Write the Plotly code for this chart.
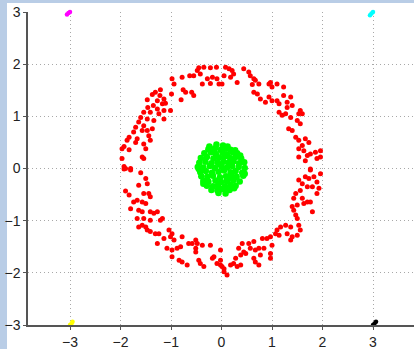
import plotly.graph_objects as go

# Outer ring (red) points
ring_x = [
 -0.45,-0.35,-0.22,-0.10,-0.48,-0.42,-0.55,-0.63,-0.28,-0.18,-0.09,-0.38,-0.22,-0.05,-0.78,-0.98,-0.94,-0.99,-0.76,-0.71,
 -0.59,-0.55,-0.80,-1.21,-1.31,-1.37,-1.22,-1.14,-1.27,-1.17,-1.11,-1.47,-1.35,-1.46,-1.27,-1.14,-1.01,-1.54,-1.41,-1.24,
 -1.14,-1.60,-1.47,-1.34,-1.64,-1.54,-1.37,-1.70,-1.57,-1.47,-1.74,-1.83,-1.67,-1.44,-1.41,-1.87,-1.70,-1.54,-1.50,-1.93,
 -1.83,-1.97,-1.57,-1.54,-1.97,-1.93,-1.90,-1.80,
 0.08,0.15,0.21,0.24,0.05,0.18,0.01,0.31,0.44,0.54,0.57,0.64,0.67,0.74,0.61,0.97,0.94,1.10,1.00,1.23,
 0.64,0.71,0.77,0.94,1.00,0.87,1.10,1.14,1.23,1.37,1.30,1.40,1.30,1.14,1.20,1.27,1.37,1.56,1.53,1.60,
 1.50,1.56,1.33,1.40,1.47,1.53,1.66,1.73,1.60,1.53,1.63,1.76,1.86,1.96,1.96,1.70,1.53,1.66,1.89,1.76,
 -1.93,-1.80,-1.60,-1.50,-1.64,-1.47,-1.90,-1.83,-1.67,-1.74,-1.54,-1.44,-1.41,-1.57,-1.50,-1.80,-1.64,-1.57,-1.41,-1.34,
 -1.27,-1.67,-1.54,-1.41,-1.17,-1.21,-1.57,-1.50,-1.64,-1.47,-1.41,-1.31,-1.24,-1.04,-0.98,-1.01,-1.27,-1.14,-0.78,-0.94,
 -1.08,-0.98,-0.88,-0.81,-0.65,-0.58,-0.51,-0.48,-0.38,-0.51,-0.98,-0.84,-0.78,-0.68,-0.51,-0.45,-0.42,-0.22,-0.15,-0.02,
 -0.18,-0.09,0.01,-0.35,
 1.76,1.96,1.66,1.73,1.83,1.89,1.53,1.60,1.70,1.80,1.93,1.89,1.56,1.47,1.43,1.60,1.70,1.63,1.76,1.50,
 1.40,1.80,1.43,1.47,1.50,1.37,1.53,1.56,1.27,1.17,1.10,1.07,1.14,1.30,1.40,1.37,1.50,0.97,0.90,0.81,
 1.00,0.84,0.64,0.54,0.57,0.67,0.74,0.41,0.34,0.44,0.48,0.38,0.64,0.77,0.97,0.97,0.67,0.74,0.28,0.24,
 0.18,0.31,0.38,0.05,-0.02,-0.02,0.11,0.05,
]
ring_y = [
 1.93,1.94,1.93,1.94,1.88,1.81,1.78,1.78,1.72,1.75,1.72,1.62,1.63,1.62,1.75,1.72,1.62,1.43,1.51,1.46,
 1.46,1.40,1.32,1.51,1.46,1.42,1.40,1.33,1.30,1.24,1.25,1.32,1.21,1.17,1.14,1.11,1.11,1.08,1.08,1.05,
 0.95,0.98,0.95,0.92,0.89,0.82,0.76,0.79,0.73,0.73,0.70,0.60,0.57,0.63,0.54,0.54,0.50,0.47,0.38,0.42,
 0.36,0.38,0.22,0.19,0.19,0.04,0.00,0.00,
 1.94,1.91,1.88,1.81,1.78,1.75,1.62,1.65,1.91,1.85,1.78,1.72,1.69,1.62,1.61,1.65,1.62,1.62,1.56,1.56,
 1.46,1.43,1.33,1.37,1.30,1.27,1.30,1.24,1.40,1.37,1.27,1.21,1.17,1.08,1.02,1.05,0.98,1.11,1.05,1.05,
 0.92,0.86,0.76,0.73,0.60,0.54,0.57,0.50,0.44,0.38,0.34,0.28,0.31,0.34,0.22,0.25,0.22,0.15,0.19,-0.01,
 -0.01,-0.03,-0.08,-0.19,-0.32,-0.29,-0.43,-0.51,-0.61,-0.64,-0.48,-0.48,-0.54,-0.64,-0.67,-0.77,-0.80,-0.83,-0.83,-0.86,
 -0.83,-0.96,-0.96,-0.99,-0.96,-0.99,-1.09,-1.12,-1.12,-1.18,-1.21,-1.25,-1.25,-1.18,-1.25,-1.31,-1.44,-1.34,-1.31,-1.37,
 -1.53,-1.56,-1.53,-1.50,-1.44,-1.44,-1.37,-1.44,-1.47,-1.53,-1.69,-1.76,-1.79,-1.85,-1.60,-1.76,-1.82,-1.47,-1.69,-1.56,
 -1.72,-1.82,-1.88,-1.88,
 -0.03,-0.10,-0.16,-0.19,-0.16,-0.26,-0.22,-0.29,-0.35,-0.35,-0.38,-0.48,-0.42,-0.48,-0.57,-0.57,-0.64,-0.67,-0.64,-0.70,
 -0.73,-0.83,-0.80,-0.89,-0.96,-1.12,-1.09,-1.18,-1.09,-1.12,-1.18,-1.25,-1.28,-1.25,-1.31,-1.37,-1.28,-1.31,-1.34,-1.34,
 -1.47,-1.53,-1.40,-1.44,-1.53,-1.56,-1.53,-1.44,-1.53,-1.60,-1.63,-1.66,-1.72,-1.66,-1.63,-1.72,-1.79,-1.85,-1.72,-1.82,
 -1.85,-1.88,-1.85,-1.92,-1.85,-1.76,-2.04,-1.98,
]

# Inner disk (green) points
core_x = [
 -0.10,0.03,0.12,
 -0.26,-0.13,-0.02,0.09,0.18,0.27,
 -0.34,-0.21,-0.11,0.02,0.11,0.22,0.31,
 -0.41,-0.29,-0.16,-0.05,0.06,0.17,0.28,0.39,
 -0.44,-0.32,-0.20,-0.08,0.04,0.14,0.24,0.35,0.45,
 -0.47,-0.36,-0.23,-0.13,0.00,0.11,0.21,0.34,0.46,
 -0.42,-0.31,-0.19,-0.06,0.05,0.18,0.28,0.41,
 -0.40,-0.28,-0.17,-0.03,0.09,0.20,0.30,0.43,
 -0.36,-0.26,-0.12,-0.01,0.10,0.24,0.36,
 -0.29,-0.17,-0.07,0.07,0.18,0.28,
 -0.20,-0.08,0.05,0.16,
 -0.06,0.08,
 -0.36,0.37,-0.45,0.46,-0.24,0.25,0.00,-0.04,0.14,-0.15,
]
core_y = [
 0.46,0.44,0.42,
 0.37,0.39,0.36,0.38,0.36,0.35,
 0.29,0.31,0.28,0.30,0.27,0.31,0.29,
 0.20,0.22,0.19,0.21,0.23,0.20,0.22,0.19,
 0.11,0.13,0.10,0.12,0.13,0.11,0.14,0.10,0.12,
 0.03,0.02,0.05,0.01,0.04,0.02,0.05,0.03,0.01,
 -0.07,-0.05,-0.08,-0.06,-0.04,-0.07,-0.05,-0.08,
 -0.15,-0.16,-0.14,-0.17,-0.15,-0.13,-0.16,-0.14,
 -0.24,-0.25,-0.23,-0.26,-0.24,-0.22,-0.25,
 -0.33,-0.34,-0.32,-0.34,-0.31,-0.33,
 -0.41,-0.42,-0.40,-0.41,
 -0.47,-0.48,
 -0.29,0.25,-0.01,-0.10,0.42,-0.38,-0.39,0.08,-0.20,0.32,
]

# Corner clusters
tl_x = [-3.06, -3.03, -3.00, -2.97, -2.95]
tl_y = [2.95, 2.98, 3.00, 3.03, 3.05]
tr_x = [2.94, 2.97, 3.00, 3.03, 3.06]
tr_y = [2.94, 2.97, 3.00, 3.03, 3.05]
bl_x = [-3.06, -3.03, -3.00, -2.97, -2.95]
bl_y = [-3.05, -3.02, -3.00, -2.97, -2.94]
br_x = [2.94, 2.97, 3.00, 3.03, 3.06]
br_y = [-3.05, -3.02, -3.00, -2.97, -2.94]

tick_vals = [-3, -2, -1, 0, 1, 2, 3]

fig = go.Figure()
fig.add_trace(go.Scatter(x=ring_x, y=ring_y, mode="markers",
                         marker=dict(color="#ff0000", size=5, line=dict(width=0))))
fig.add_trace(go.Scatter(x=core_x, y=core_y, mode="markers",
                         marker=dict(color="#00ff00", size=6.5, line=dict(width=0))))
for cx, cy, col in [(tl_x, tl_y, "#ff00ff"), (tr_x, tr_y, "#00ffff"),
                    (bl_x, bl_y, "#ffff00"), (br_x, br_y, "#000000")]:
    fig.add_trace(go.Scatter(x=cx, y=cy, mode="markers", cliponaxis=False,
                             marker=dict(color=col, size=4.5, line=dict(width=0))))

axis_common = dict(
    tickvals=tick_vals, showgrid=True, gridcolor="#a8a8a8", griddash="1px,3px", gridwidth=1,
    zeroline=False, showline=True, linecolor="#555555", linewidth=1.5,
    tickfont=dict(family="Liberation Sans, Arial", size=14, color="#222222"),
    ticks="outside", ticklen=3, tickcolor="#555555",
)
fig.update_xaxes(range=[-3.832, 3.812], **axis_common)
fig.update_yaxes(range=[-3, 3], **axis_common)

fig.update_layout(
    width=414, height=349,
    margin=dict(l=28, r=0, t=12, b=24),
    paper_bgcolor="white", plot_bgcolor="white",
    showlegend=False,
    shapes=[
        dict(type="rect", xref="paper", yref="paper", x0=-0.08, x1=-0.0544, y0=-0.1, y1=1.1,
             fillcolor="#b9cde6", line=dict(width=0), layer="below"),
        dict(type="rect", xref="paper", yref="paper", x0=-0.08, x1=1.01, y0=1.0288, y1=1.1,
             fillcolor="#b9cde6", line=dict(width=0), layer="below"),
    ],
)

fig.write_html("out.html")
